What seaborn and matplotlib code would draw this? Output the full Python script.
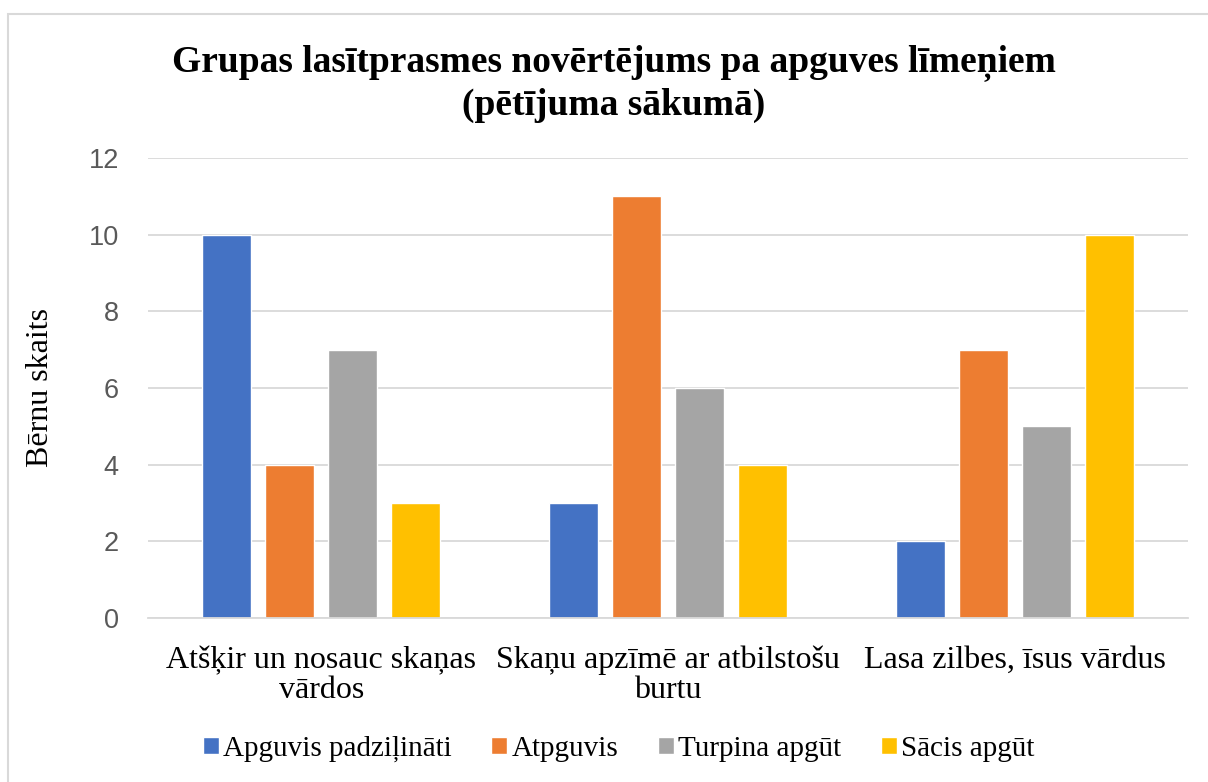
import matplotlib
matplotlib.use("Agg")
import matplotlib.pyplot as plt
import seaborn as sns
import pandas as pd
from matplotlib.patches import Rectangle

categories = ["Atšķir un nosauc skaņas\nvārdos", "Skaņu apzīmē ar atbilstošu\nburtu", "Lasa zilbes, īsus vārdus"]
series_names = ["Apguvis padziļināti", "Atpguvis", "Turpina apgūt", "Sācis apgūt"]
apguvis_padzilinati = [10, 3, 2]
atpguvis = [4, 11, 7]
turpina_apgut = [7, 6, 5]
sacis_apgut = [3, 4, 10]
colors = ["#4472C4", "#ED7D31", "#A5A5A5", "#FFC000"]
y_ticks = [0, 2, 4, 6, 8, 10, 12]
title = "Grupas lasītprasmes novērtējums pa apguves līmeņiem\n(pētījuma sākumā)"
y_label = "Bērnu skaits"

values = [apguvis_padzilinati, atpguvis, turpina_apgut, sacis_apgut]
rows = []
for name, vals in zip(series_names, values):
    for cat, v in zip(categories, vals):
        rows.append({"Kategorija": cat, "Līmenis": name, "Skaits": v})
df = pd.DataFrame(rows)

sns.set_theme(style="white")
plt.rcParams["font.family"] = ["Liberation Serif", "DejaVu Serif"]
plt.rcParams["text.color"] = "black"

fig = plt.figure(figsize=(12.08, 7.82), dpi=100)
ax = fig.add_axes([0.1225, 0.2097, 0.861, 0.5883])

sns.barplot(data=df, x="Kategorija", y="Skaits", hue="Līmenis", order=categories,
            hue_order=series_names, palette=colors, width=0.727, gap=0.22,
            saturation=1, ax=ax, legend=True)

ax.set_ylim(0, 12)
ax.set_xlim(-0.5, 2.5)
ax.set_yticks(y_ticks)
ax.set_yticklabels([str(t) for t in y_ticks], family="Liberation Sans", fontsize=19.5, color="#595959")
ax.tick_params(axis="x", labelsize=23, length=0, pad=20, labelcolor="black")
ax.tick_params(axis="y", length=0, pad=21)
for lab in ax.get_xticklabels():
    lab.set_linespacing(1.05)
ax.yaxis.grid(True, color="#d9d9d9", linewidth=1.3)
ax.set_axisbelow(True)
for s in ["top", "right", "left"]:
    ax.spines[s].set_visible(False)
ax.spines["bottom"].set_color("#d9d9d9")
ax.spines["bottom"].set_linewidth(1.3)
ax.set_xlabel("")
ax.set_ylabel(y_label, fontsize=23, color="black")
ax.yaxis.set_label_coords(-0.089, 0.5)

fig.suptitle(title, fontsize=27, fontweight="bold", x=0.508, y=0.943, linespacing=1.25, color="black")

h, l = ax.get_legend_handles_labels()
ax.legend_.remove()
fig.legend(h, l, loc="center", bbox_to_anchor=(0.512, 0.042), ncol=4, frameon=False,
           fontsize=21, handlelength=0.55, handleheight=0.55, handletextpad=0.15,
           columnspacing=1.35, labelcolor="black")

fig.patches.append(Rectangle((8 / 1208, -0.1), 1.2, 1 - 14 / 782 + 0.1, transform=fig.transFigure,
                             fill=False, edgecolor="#d9d9d9", linewidth=1.5))

fig.savefig("out.png", dpi=100)
